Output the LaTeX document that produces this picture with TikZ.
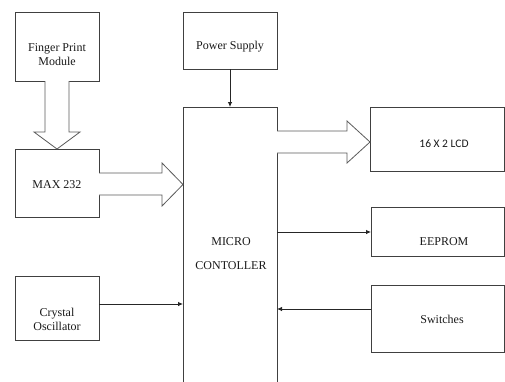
\documentclass[tikz,border=0pt]{standalone}
\usepackage{fontspec}
\setmainfont{Liberation Serif}
\newfontfamily\calib{Carlito}
\usetikzlibrary{arrows.meta}
\definecolor{linegray}{HTML}{404040}
\definecolor{fatgray}{HTML}{5A5A5A}
\begin{document}
\begin{tikzpicture}[x=1pt,y=-1pt,
  blk/.style={draw=linegray,line width=0.9pt},
  lbl/.style={font=\fontsize{12}{14}\selectfont,align=center,inner sep=0pt,text=black!90},
  fat/.style={draw=fatgray,fill=white,line width=0.8pt,line join=miter},
  thin/.style={draw=black!85,line width=0.8pt,-{Latex[length=5pt,width=4.5pt]}}]
\useasboundingbox (0,0) rectangle (505,381);
% boxes
\draw[blk] (15,12) rectangle (99,81);
\node[lbl] (fp) at (57,55) {Finger Print\\Module};
\draw[blk] (15,149) rectangle (99,217);
\node[lbl] (max) at (57,185) {MAX 232};
\draw[blk] (15,276) rectangle (99,340);
\node[lbl] (xtal) at (57,319) {Crystal\\Oscillator};
\draw[blk] (183,12) rectangle (277,69);
\node[lbl] (ps) at (230,47) {Power Supply};
\draw[blk] (183,382) -- (183,107) -- (277,107) -- (277,382);
\node[lbl] (mc1) at (231,242) {MICRO};
\node[lbl] (mc2) at (231,266) {CONTOLLER};
\draw[blk] (370,107) rectangle (504.5,171);
\node[lbl,font=\calib\fontsize{11.5}{14}\selectfont] (lcd) at (444,144) {16 X 2 LCD};
\draw[blk] (371,207) rectangle (504.5,256);
\node[lbl] (ee) at (444,242) {EEPROM};
\draw[blk] (371,285) rectangle (504.5,352);
\node[lbl] (sw) at (442,319) {Switches};
% fat arrows
\draw[fat] (45,81) -- (45,132) -- (34,132) -- (57,149) -- (80,132) -- (69,132) -- (69,81);
\draw[fat] (99,173) -- (162,173) -- (162,163) -- (183,184.5) -- (162,206) -- (162,195) -- (99,195);
\draw[fat] (277,131) -- (347,131) -- (347,121) -- (370,142) -- (347,163) -- (347,153) -- (277,153);
% thin arrows
\draw[thin] (230,69) -- (230,107);
\draw[thin] (277,232) -- (371,232);
\draw[thin] (371,309) -- (277,309);
\draw[thin] (99,304) -- (183,304);
\end{tikzpicture}
\end{document}
